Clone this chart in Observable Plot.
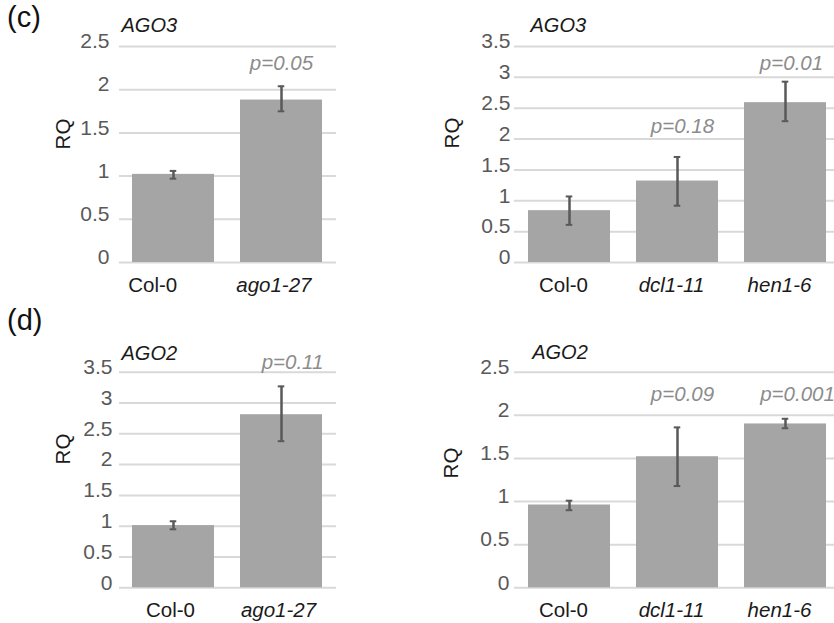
<!DOCTYPE html>
<html><head><meta charset="utf-8">
<script src="https://cdn.jsdelivr.net/npm/d3@7"></script>
<script src="https://cdn.jsdelivr.net/npm/@observablehq/plot@0.6"></script>
<style>
body{margin:0;background:#fff;overflow:hidden;}
#fig{position:relative;width:834px;height:623px;overflow:hidden;background:#fff;font-family:"Liberation Sans",Arial,Helvetica,sans-serif;}
.panel{position:absolute;}
.tag{position:absolute;font-size:29px;line-height:29px;color:#111;}
.rq{position:absolute;font-size:20.5px;line-height:20.5px;color:#1a1a1a;transform:translate(-50%,-50%) rotate(-90deg);white-space:nowrap;z-index:2;}
</style></head><body>
<div id="fig">
  <div class="tag" style="left:7px;top:3px;">(c)</div>
  <div class="tag" style="left:7px;top:306px;">(d)</div>
</div>
<script>
// ---- data ----
const cLeftGenotypes = ["Col-0", "ago1-27"];
const cLeftRQ = [1.02, 1.88];
const cLeftLo = [0.97, 1.75];
const cLeftHi = [1.06, 2.04];
const cLeftP = ["", "p=0.05"];
const cLeftPY = [null, 2.30];
const cLeftTicks = [0, 0.5, 1, 1.5, 2, 2.5];

const cRightGenotypes = ["Col-0", "dcl1-11", "hen1-6"];
const cRightRQ = [0.84, 1.32, 2.59];
const cRightLo = [0.61, 0.92, 2.29];
const cRightHi = [1.07, 1.71, 2.93];
const cRightP = ["", "p=0.18", "p=0.01"];
const cRightPY = [null, 2.20, 3.22];
const cRightTicks = [0, 0.5, 1, 1.5, 2, 2.5, 3, 3.5];

const dLeftGenotypes = ["Col-0", "ago1-27"];
const dLeftRQ = [1.01, 2.81];
const dLeftLo = [0.95, 2.38];
const dLeftHi = [1.08, 3.27];
const dLeftP = ["", "p=0.11"];
const dLeftPY = [null, 3.66];
const dLeftTicks = [0, 0.5, 1, 1.5, 2, 2.5, 3, 3.5];

const dRightGenotypes = ["Col-0", "dcl1-11", "hen1-6"];
const dRightRQ = [0.96, 1.52, 1.90];
const dRightLo = [0.90, 1.18, 1.85];
const dRightHi = [1.01, 1.86, 1.96];
const dRightP = ["", "p=0.09", "p=0.001"];
const dRightPY = [null, 2.24, 2.24];
const dRightTicks = [0, 0.5, 1, 1.5, 2, 2.5];

const FONT = '"Liberation Sans", Arial, Helvetica, sans-serif';
const PI = 0.24, PO = 0.12;

function drawPanel(cfg) {
  const n = cfg.genotypes.length;
  const data = cfg.genotypes.map((g, i) => ({g, rq: cfg.rq[i], lo: cfg.lo[i], hi: cfg.hi[i], p: cfg.p[i], py: cfg.pY[i], i}));
  const plotW = cfg.width - cfg.ml - cfg.mr;
  const step = plotW / (n - PI + 2 * PO);
  const bw = step * (1 - PI);
  const capInset = (bw - 7) / 2;
  const marks = [
    Plot.gridY(cfg.ticks, {stroke: "#d9d9d9", strokeOpacity: 1, strokeWidth: 2}),
    Plot.axisY(cfg.ticks, {tickSize: 0, tickPadding: cfg.tickPad, tickFormat: d => String(d), color: "#595959", fontSize: 21, dy: -5, label: null}),
    Plot.barY(data, {x: "g", y: "rq", fill: "#a5a5a5"}),
    Plot.ruleX(data, {x: "g", y1: "lo", y2: "hi", stroke: "#595959", strokeWidth: 2.5}),
    Plot.tickY(data, {x: "g", y: "hi", stroke: "#595959", strokeWidth: 2, inset: capInset}),
    Plot.tickY(data, {x: "g", y: "lo", stroke: "#595959", strokeWidth: 2, inset: capInset})
  ];
  data.filter(d => d.p).forEach(d => {
    marks.push(Plot.text([d], {x: "g", y: "py", text: "p", fill: "#8c8c8c", fontStyle: "italic", fontSize: 20.5, dx: cfg.pDx[d.i]}));
  });
  data.forEach(d => {
    const anchorStart = cfg.xAnchor === "start";
    marks.push(Plot.text([d], {
      x: "g", text: "g", frameAnchor: "bottom", lineAnchor: "bottom", dy: 29,
      textAnchor: anchorStart ? "start" : "middle",
      dx: anchorStart ? -bw / 2 - 4 : cfg.xDx,
      fill: "#1a1a1a", fontSize: 20.5, fontStyle: d.g === "Col-0" ? "normal" : "italic"
    }));
  });
  marks.push(Plot.text([cfg.title], {text: d => d, frameAnchor: "top-left", textAnchor: "start", lineAnchor: "bottom", dx: cfg.titleDx, dy: cfg.titleDy, fontStyle: "italic", fill: "#1a1a1a", fontSize: 20}));

  const svg = Plot.plot({
    width: cfg.width, height: cfg.height,
    marginLeft: cfg.ml, marginRight: cfg.mr, marginTop: cfg.mt, marginBottom: cfg.mb,
    style: {fontFamily: FONT, fontSize: "20px", background: "transparent", overflow: "visible"},
    x: {domain: cfg.genotypes, paddingInner: PI, paddingOuter: PO, axis: null},
    y: {domain: cfg.yDomain, axis: null},
    marks
  });
  svg.classList.add("panel");
  svg.style.left = cfg.left + "px";
  svg.style.top = cfg.top + "px";
  const fig = document.getElementById("fig");
  fig.appendChild(svg);
  const rq = document.createElement("div");
  rq.className = "rq";
  rq.textContent = "RQ";
  rq.style.left = cfg.rqX + "px";
  rq.style.top = cfg.rqY + "px";
  fig.appendChild(rq);
}

drawPanel({
  genotypes: cLeftGenotypes, rq: cLeftRQ, lo: cLeftLo, hi: cLeftHi, p: cLeftP, pY: cLeftPY, ticks: cLeftTicks,
  yDomain: [0, 2.5], left: 0, top: 0, width: 400, height: 300, ml: 119, mr: 64, mt: 46, mb: 38,
  tickPad: 10, pDx: [0, 0], xAnchor: "start", xDx: 0, title: "AGO3", titleDx: 2, titleDy: -15, rqX: 63, rqY: 134
});
drawPanel({
  genotypes: cRightGenotypes, rq: cRightRQ, lo: cRightLo, hi: cRightHi, p: cRightP, pY: cRightPY, ticks: cRightTicks,
  yDomain: [0, 3.5], left: 420, top: 0, width: 430, height: 300, ml: 94, mr: 10.5, mt: 46, mb: 38,
  tickPad: 4, pDx: [0, 5, 6], xAnchor: "middle", xDx: -6, title: "AGO3", titleDx: 16, titleDy: -15, rqX: 452, rqY: 133
});
drawPanel({
  genotypes: dLeftGenotypes, rq: dLeftRQ, lo: dLeftLo, hi: dLeftHi, p: dLeftP, pY: dLeftPY, ticks: dLeftTicks,
  yDomain: [0, 3.5], left: 0, top: 300, width: 400, height: 323, ml: 119, mr: 64, mt: 71.7, mb: 35.7,
  tickPad: 7, pDx: [0, 11], xAnchor: "middle", xDx: -3, title: "AGO2", titleDx: 2, titleDy: -12.7, rqX: 63, rqY: 449
});
drawPanel({
  genotypes: dRightGenotypes, rq: dRightRQ, lo: dRightLo, hi: dRightHi, p: dRightP, pY: dRightPY, ticks: dRightTicks,
  yDomain: [0, 2.5], left: 420, top: 300, width: 430, height: 323, ml: 94, mr: 10.5, mt: 71.7, mb: 35.7,
  tickPad: 5, pDx: [0, 5, 12], xAnchor: "middle", xDx: -6, title: "AGO2", titleDx: 17.7, titleDy: -13.7, rqX: 451, rqY: 463
});
</script>
</body></html>
